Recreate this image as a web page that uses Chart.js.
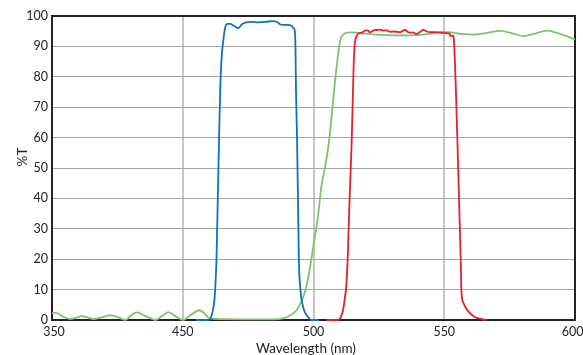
<!DOCTYPE html>
<html><head><meta charset="utf-8">
<script src="https://cdn.jsdelivr.net/npm/chart.js@4/dist/chart.umd.min.js"></script>
<style>html,body{margin:0;padding:0;background:#fff}#c{display:block}</style>
</head><body>
<canvas id="c" width="583" height="355"></canvas>
<script>
// Tick labels of the (piecewise, evenly spaced) wavelength axis
const xTickLabels = [350, 450, 500, 550, 600];
const yTickMax = 100;

// Blue filter
const blueWl = [455, 460, 461, 461.9, 462.4, 462.9, 463.4, 463.9, 464.3, 464.8, 465.5, 466.3, 467.2, 468.2, 469.5, 471.3, 472.5, 473.9, 476, 479, 482, 484, 485.9, 487.2, 488.5, 490, 491.6, 492.4, 492.8, 493.1, 493.3, 493.7, 494.1, 494.4, 495.0, 495.7, 496.5, 497.5, 498.3, 499.1, 502];
const blueT  = [0, 0, 1.5, 5, 10, 20, 40, 60, 75, 85.5, 92, 96.5, 97.4, 97.4, 96.8, 96, 97.2, 97.8, 98.1, 97.9, 98.1, 98.3, 98.1, 97.3, 97.1, 97.1, 96.8, 96, 95.4, 90, 76, 60, 38, 20, 10, 5.5, 3, 1.5, 0.6, 0, 0];

// Green filter
const greenWl = [350, 351.5, 353.6, 358, 363.8, 368, 372.8, 377, 381.8, 388, 394.6, 400, 406.2, 410.5, 414.6, 422, 429.2, 434, 439, 444.5, 450.1, 453, 456.4, 458.5, 460, 465, 475, 485, 488.4, 491, 493.5, 495.3, 497, 498.5, 499.7, 501.7, 503, 504.2, 505.5, 506.5, 507.4, 508.4, 509.3, 510, 510.7, 511.3, 512.6, 514.5, 516.4, 520, 524, 528, 534, 540.8, 545, 549.7, 553.5, 557, 561.2, 566, 571.4, 576, 580.3, 585, 589.2, 594, 600];
const greenT  = [2.2, 2.4, 2.3, 1.2, 0.3, 0.7, 1.3, 0.9, 0.3, 0.9, 1.5, 1.0, 0, 1.5, 2.5, 1.2, 0, 1.2, 2.6, 1.2, 0, 1.6, 3.2, 2.0, 0.6, 0.3, 0.2, 0.2, 0.5, 1.5, 3.2, 6, 10, 16.4, 23, 34, 43.8, 49.3, 55.9, 63, 71.3, 80, 86.6, 91, 93.2, 93.8, 94.5, 94.6, 94.5, 94.2, 93.9, 93.7, 93.6, 93.8, 94.2, 94.8, 94.5, 94.1, 93.9, 94.4, 95.1, 94.3, 93.4, 94.3, 95.2, 94.2, 92.3];

// Red filter
const redWl = [505, 509.3, 510.5, 511.3, 511.9, 512.6, 513.2, 513.8, 514.5, 515.1, 515.4, 515.8, 516.4, 517.4, 518.3, 519, 520, 520.9, 521.5, 522.2, 523, 524.1, 525.5, 526.7, 528, 529.2, 531, 533.1, 534, 535, 536, 536.9, 538, 539.5, 540.8, 542, 543.3, 544.6, 546.5, 548.5, 551, 552, 552.4, 553.4, 553.6, 555.0, 556.3, 556.6, 557.4, 558.5, 559.9, 561.5, 563.1, 566.3];
const redT  = [0, 0, 1, 3.3, 6.6, 12, 23, 40, 55.9, 75, 85, 91, 93.2, 94.3, 94.5, 94.8, 95.3, 95.2, 94.6, 94.8, 95.3, 95.4, 95.5, 95.2, 95.3, 94.8, 94.9, 94.7, 95.1, 95.4, 94.8, 94.5, 94.6, 94.1, 94.8, 95.4, 94.9, 94.7, 94.7, 94.5, 94.3, 94.2, 93.4, 93.5, 93, 60, 20, 9, 5.5, 3.6, 2.2, 1.1, 0.5, 0];

// piecewise map wavelength -> axis unit (ticks evenly spaced)
function toAxis(w) {
  const t = xTickLabels;
  for (let i = 0; i < t.length - 1; i++) {
    if (w <= t[i + 1] || i === t.length - 2) return i + (w - t[i]) / (t[i + 1] - t[i]);
  }
}
function pts(wl, v) { return wl.map((w, i) => ({ x: toAxis(w), y: v[i] })); }

const FONT = 'Lato, "Open Sans", sans-serif';

const framePlugin = {
  id: 'frame',
  beforeDatasetsDraw(chart) {
    const { ctx, chartArea: a } = chart;
    ctx.save();
    ctx.strokeStyle = '#222';
    ctx.lineWidth = 2;
    ctx.strokeRect(a.left, a.top, a.right - a.left, a.bottom - a.top);
    ctx.restore();
  },
  afterDraw(chart) {
    const { ctx, chartArea: a } = chart;
    const xs = chart.scales.x;
    ctx.save();
    ctx.fillStyle = '#222';
    ctx.textAlign = 'center';
    ctx.textBaseline = 'middle';
    // x tick labels (edge labels nudged inside the canvas like the reference)
    ctx.font = '12.5px ' + FONT;
    xTickLabels.forEach((lab, i) => {
      let px = xs.getPixelForValue(i);
      if (i === 0) px += 2;
      if (i === xTickLabels.length - 1) px -= 2.5;
      ctx.fillText(String(lab), px, a.bottom + 12);
    });
    ctx.font = '13.5px ' + FONT;
    ctx.fillText('Wavelength (nm)', 306, 349);
    ctx.translate(23, 157);
    ctx.rotate(-Math.PI / 2);
    ctx.fillText('%T', 0, 0);
    ctx.restore();
  }
};

const common = { pointRadius: 0, borderWidth: 1.8, cubicInterpolationMode: 'monotone', fill: false, clip: 4 };

new Chart(document.getElementById('c'), {
  type: 'line',
  data: {
    datasets: [
      Object.assign({ label: 'Red', data: pts(redWl, redT), borderColor: '#e3202c' }, common),
      Object.assign({ label: 'Blue', data: pts(blueWl, blueT), borderColor: '#1170c0' }, common),
      Object.assign({ label: 'Green', data: pts(greenWl, greenT), borderColor: '#7dc36b' }, common)
    ]
  },
  options: {
    responsive: false,
    animation: false,
    devicePixelRatio: 1,
    layout: { padding: { top: 16, right: 8, left: 0, bottom: 0 } },
    plugins: { legend: { display: false }, tooltip: { enabled: false } },
    scales: {
      x: {
        type: 'linear', min: 0, max: xTickLabels.length - 1,
        afterFit(s) { s.height = 35; s.paddingLeft = 0; s.paddingRight = 0; },
        grid: { color: '#c6c6c6', lineWidth: 2, drawTicks: false },
        border: { display: false },
        ticks: { stepSize: 1, display: false, autoSkip: false }
      },
      y: {
        min: 0, max: yTickMax,
        afterFit(s) { s.width = 52; s.paddingTop = 0; s.paddingBottom = 0; },
        grid: { color: '#a3a3a3', lineWidth: 1, drawTicks: false },
        border: { display: false },
        ticks: { stepSize: 10, padding: 4, color: '#222', font: { family: FONT, size: 12.5 } }
      }
    }
  },
  plugins: [framePlugin]
});
</script>
</body></html>
